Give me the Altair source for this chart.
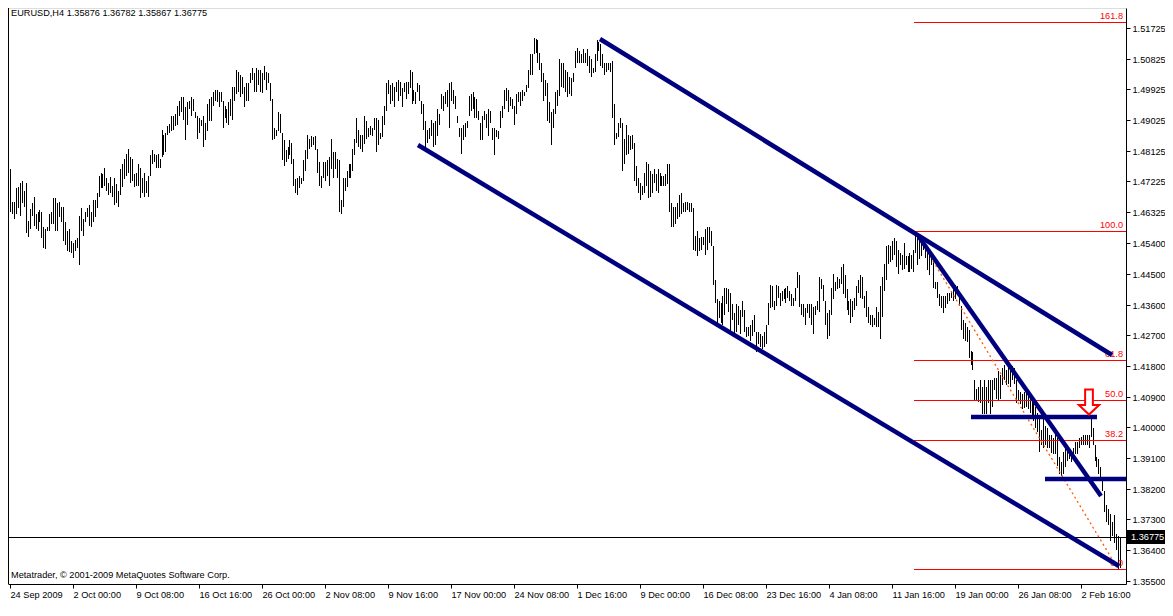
import json
import altair as alt
import pandas as pd

# ---------------- data (EURUSD, H4) ----------------
HIGH = [
1.4757,1.4661,1.4661,1.4701,1.4704,1.4718,1.4724,1.4695,1.4718,1.4605,
1.4642,1.4659,1.4675,1.4625,1.4633,1.4639,1.4633,1.4589,1.4583,1.4589,
1.4625,1.4631,1.4672,1.4672,1.4659,1.4661,1.4647,1.4647,1.4602,1.4575,
1.4583,1.4547,1.4541,1.4549,1.4555,1.4619,1.4644,1.4611,1.4633,1.4644,
1.4653,1.4633,1.4667,1.4667,1.4689,1.4738,1.4746,1.4743,1.4760,1.4732,
1.4718,1.4735,1.4709,1.4732,1.4715,1.4695,1.4757,1.4772,1.4788,1.4802,
1.4816,1.4794,1.4788,1.4743,1.4746,1.4772,1.4760,1.4732,1.4746,1.4724,
1.4738,1.4799,1.4814,1.4802,1.4799,1.4802,1.4788,1.4873,1.4859,1.4865,
1.4885,1.4890,1.4913,1.4915,1.4921,1.4943,1.4957,1.4969,1.4969,1.4941,
1.4955,1.4957,1.4969,1.4963,1.4926,1.4915,1.4907,1.4901,1.4915,1.4893,
1.4949,1.4963,1.4969,1.4983,1.4991,1.4991,1.4985,1.4983,1.4957,1.4943,
1.4935,1.4955,1.4963,1.4999,1.4999,1.5048,1.5042,1.5034,1.5028,1.4999,
1.5011,1.5011,1.5040,1.5056,1.5040,1.5054,1.5048,1.5048,1.5040,1.5062,
1.5042,1.5040,1.5011,1.4963,1.4879,1.4873,1.4926,1.4921,1.4865,1.4842,
1.4814,1.4822,1.4842,1.4836,1.4788,1.4729,1.4732,1.4738,1.4732,1.4785,
1.4814,1.4859,1.4845,1.4856,1.4851,1.4856,1.4816,1.4780,1.4738,1.4780,
1.4780,1.4785,1.4794,1.4845,1.4808,1.4808,1.4788,1.4785,1.4667,1.4732,
1.4732,1.4752,1.4772,1.4772,1.4816,1.4845,1.4907,1.4873,1.4859,1.4859,
1.4915,1.4898,1.4879,1.4885,1.4879,1.4907,1.4907,1.4901,1.4865,1.4913,
1.4943,1.5011,1.5020,1.5005,1.5011,1.4999,1.5014,1.5020,1.5014,1.4997,
1.5011,1.5014,1.5014,1.5048,1.5042,1.4991,1.4983,1.5011,1.5005,1.4957,
1.4949,1.4898,1.4873,1.4879,1.4901,1.4893,1.4898,1.4935,1.4921,1.4977,
1.4972,1.4983,1.4991,1.5011,1.5014,1.4991,1.4972,1.4913,1.4879,1.4879,
1.4887,1.4893,1.4898,1.4972,1.4977,1.4985,1.4969,1.4963,1.4929,1.4893,
1.4915,1.4929,1.4921,1.4935,1.4929,1.4879,1.4879,1.4873,1.4870,1.4929,
1.4943,1.4991,1.4997,1.4991,1.4969,1.4963,1.4943,1.4977,1.4985,1.4983,
1.4991,1.4985,1.5005,1.5048,1.5096,1.5096,1.5144,1.5141,1.5138,1.5099,
1.5068,1.5040,1.5020,1.5011,1.4955,1.4926,1.4935,1.4985,1.4991,1.5082,
1.5070,1.5068,1.5048,1.5042,1.5028,1.5025,1.5040,1.5104,1.5113,1.5104,
1.5096,1.5110,1.5099,1.5110,1.5090,1.5082,1.5054,1.5096,1.5138,1.5132,
1.5124,1.5096,1.5070,1.5068,1.5068,1.5070,1.5076,1.4949,1.4865,1.4893,
1.4907,1.4893,1.4845,1.4887,1.4859,1.4856,1.4859,1.4836,1.4766,1.4732,
1.4718,1.4709,1.4746,1.4780,1.4774,1.4752,1.4743,1.4757,1.4743,1.4757,
1.4746,1.4738,1.4738,1.4743,1.4772,1.4774,1.4659,1.4647,1.4647,1.4659,
1.4681,1.4687,1.4659,1.4661,1.4661,1.4659,1.4659,1.4644,1.4563,1.4575,
1.4555,1.4560,1.4560,1.4583,1.4589,1.4589,1.4575,1.4532,1.4433,1.4377,
1.4371,1.4366,1.4385,1.4408,1.4408,1.4405,1.4394,1.4363,1.4335,1.4363,
1.4357,1.4343,1.4371,1.4343,1.4295,1.4295,1.4301,1.4315,1.4329,1.4281,
1.4279,1.4273,1.4267,1.4279,1.4301,1.4366,1.4419,1.4414,1.4371,1.4419,
1.4414,1.4394,1.4400,1.4405,1.4408,1.4414,1.4400,1.4391,1.4380,1.4408,
1.4456,1.4447,1.4363,1.4363,1.4349,1.4363,1.4363,1.4363,1.4352,1.4357,
1.4371,1.4442,1.4436,1.4419,1.4371,1.4335,1.4343,1.4408,1.4450,1.4428,
1.4442,1.4436,1.4470,1.4478,1.4447,1.4405,1.4371,1.4377,1.4371,1.4380,
1.4414,1.4433,1.4447,1.4442,1.4385,1.4400,1.4352,1.4329,1.4329,1.4321,
1.4352,1.4338,1.4414,1.4442,1.4478,1.4532,1.4535,1.4532,1.4547,1.4555,
1.4547,1.4521,1.4512,1.4507,1.4541,1.4504,1.4504,1.4512,1.4507,1.4521,
1.4577,1.4560,1.4547,1.4541,1.4555,1.4541,1.4526,1.4521,1.4512,1.4493,
1.4428,1.4428,1.4391,1.4385,1.4385,1.4385,1.4394,1.4394,1.4400,1.4405,
1.4419,1.4414,1.4394,1.4357,1.4315,1.4307,1.4293,1.4287,1.4225,1.4222,
1.4138,1.4112,1.4118,1.4138,1.4118,1.4138,1.4118,1.4140,1.4138,1.4140,
1.4146,1.4146,1.4166,1.4155,1.4174,1.4183,1.4169,1.4180,1.4169,1.4180,
1.4174,1.4140,1.4109,1.4104,1.4098,1.4104,1.4104,1.4098,1.4084,1.4084,
1.4070,1.4061,1.4041,1.4033,1.3991,1.4033,1.4005,1.3997,1.3977,1.3977,
1.3969,1.3997,1.3969,1.3912,1.3898,1.3929,1.3940,1.3935,1.3940,1.3929,
1.3940,1.3957,1.3957,1.3969,1.3971,1.3977,1.3977,1.3977,1.3977,1.4027,
1.3997,1.3949,1.3912,1.3906,1.3884,1.3844,1.3813,1.3771,1.3760,1.3745,
1.3723,1.3743,1.3686,1.3681,1.36782,
]

LOW = [
1.4631,1.4625,1.4611,1.4625,1.4644,1.4619,1.4659,1.4647,1.4569,1.4560,
1.4583,1.4619,1.4591,1.4583,1.4577,1.4602,1.4555,1.4526,1.4523,1.4575,
1.4577,1.4597,1.4597,1.4577,1.4575,1.4616,1.4602,1.4547,1.4535,1.4518,
1.4515,1.4512,1.4498,1.4518,1.4526,1.4475,1.4575,1.4563,1.4602,1.4616,
1.4591,1.4589,1.4602,1.4616,1.4644,1.4675,1.4701,1.4701,1.4709,1.4695,
1.4681,1.4687,1.4675,1.4653,1.4659,1.4647,1.4681,1.4704,1.4729,1.4738,
1.4746,1.4718,1.4724,1.4704,1.4709,1.4709,1.4672,1.4687,1.4675,1.4689,
1.4675,1.4738,1.4772,1.4780,1.4760,1.4760,1.4760,1.4794,1.4799,1.4808,
1.4859,1.4865,1.4870,1.4873,1.4885,1.4887,1.4913,1.4926,1.4901,1.4842,
1.4887,1.4935,1.4913,1.4929,1.4907,1.4845,1.4865,1.4885,1.4822,1.4842,
1.4870,1.4898,1.4898,1.4943,1.4957,1.4955,1.4941,1.4955,1.4879,1.4907,
1.4893,1.4887,1.4915,1.4901,1.4957,1.4977,1.4983,1.4969,1.4977,1.4941,
1.4957,1.4957,1.5011,1.5020,1.4985,1.4985,1.5005,1.4985,1.4980,1.5020,
1.4991,1.5011,1.4957,1.4842,1.4845,1.4856,1.4870,1.4865,1.4785,1.4766,
1.4780,1.4788,1.4799,1.4772,1.4709,1.4689,1.4681,1.4701,1.4715,1.4724,
1.4752,1.4788,1.4816,1.4822,1.4828,1.4814,1.4746,1.4709,1.4701,1.4732,
1.4724,1.4738,1.4709,1.4757,1.4732,1.4757,1.4732,1.4631,1.4625,1.4647,
1.4695,1.4704,1.4732,1.4732,1.4752,1.4799,1.4836,1.4822,1.4816,1.4808,
1.4831,1.4845,1.4851,1.4859,1.4856,1.4873,1.4808,1.4828,1.4845,1.4851,
1.4887,1.4929,1.4977,1.4949,1.4957,1.4941,1.4985,1.4957,1.4972,1.4941,
1.4985,1.4963,1.4977,1.4997,1.4949,1.4957,1.4949,1.4983,1.4957,1.4921,
1.4873,1.4816,1.4836,1.4845,1.4856,1.4822,1.4828,1.4856,1.4887,1.4935,
1.4929,1.4949,1.4941,1.4879,1.4957,1.4949,1.4935,1.4893,1.4851,1.4802,
1.4842,1.4851,1.4879,1.4915,1.4929,1.4935,1.4907,1.4907,1.4901,1.4842,
1.4842,1.4901,1.4879,1.4856,1.4893,1.4842,1.4799,1.4851,1.4845,1.4879,
1.4907,1.4935,1.4957,1.4926,1.4943,1.4935,1.4887,1.4921,1.4955,1.4943,
1.4957,1.4972,1.4983,1.4997,1.5034,1.5034,1.5096,1.5099,1.5068,1.5048,
1.5014,1.4957,1.4972,1.4898,1.4893,1.4828,1.4879,1.4921,1.4943,1.4972,
1.4999,1.4997,1.4983,1.4969,1.4977,1.4972,1.5014,1.5056,1.5070,1.5068,
1.5068,1.5068,1.5070,1.5062,1.5040,1.5028,1.5040,1.5042,1.5076,1.5104,
1.5062,1.5056,1.5034,1.5042,1.5048,1.5042,1.4907,1.4828,1.4845,1.4851,
1.4879,1.4752,1.4774,1.4799,1.4802,1.4814,1.4816,1.4724,1.4709,1.4689,
1.4667,1.4681,1.4689,1.4709,1.4672,1.4675,1.4689,1.4718,1.4695,1.4689,
1.4709,1.4709,1.4709,1.4709,1.4715,1.4633,1.4589,1.4589,1.4597,1.4611,
1.4616,1.4625,1.4633,1.4631,1.4639,1.4633,1.4631,1.4521,1.4518,1.4504,
1.4518,1.4521,1.4535,1.4507,1.4521,1.4541,1.4532,1.4419,1.4366,1.4301,
1.4321,1.4307,1.4301,1.4329,1.4363,1.4338,1.4281,1.4315,1.4273,1.4279,
1.4301,1.4273,1.4324,1.4279,1.4264,1.4267,1.4253,1.4267,1.4281,1.4222,
1.4245,1.4236,1.4231,1.4236,1.4245,1.4301,1.4349,1.4352,1.4343,1.4357,
1.4380,1.4357,1.4371,1.4377,1.4366,1.4380,1.4371,1.4357,1.4357,1.4371,
1.4408,1.4352,1.4329,1.4324,1.4301,1.4335,1.4321,1.4301,1.4273,1.4329,
1.4343,1.4338,1.4405,1.4371,1.4301,1.4259,1.4267,1.4329,1.4377,1.4400,
1.4405,1.4408,1.4422,1.4391,1.4380,1.4343,1.4329,1.4307,1.4324,1.4343,
1.4357,1.4394,1.4380,1.4377,1.4349,1.4324,1.4307,1.4301,1.4295,1.4301,
1.4295,1.4293,1.4259,1.4324,1.4400,1.4433,1.4478,1.4484,1.4490,1.4507,
1.4470,1.4450,1.4475,1.4462,1.4465,1.4475,1.4456,1.4456,1.4465,1.4456,
1.4512,1.4475,1.4493,1.4504,1.4521,1.4498,1.4462,1.4447,1.4475,1.4408,
1.4405,1.4380,1.4357,1.4349,1.4335,1.4349,1.4363,1.4371,1.4380,1.4371,
1.4377,1.4391,1.4357,1.4287,1.4259,1.4253,1.4250,1.4202,1.4183,1.4169,
1.4081,1.4081,1.4075,1.4070,1.4039,1.4039,1.4039,1.4070,1.4039,1.4061,
1.4109,1.4084,1.4081,1.4084,1.4123,1.4138,1.4123,1.4126,1.4118,1.4138,
1.4126,1.4070,1.4081,1.4067,1.4053,1.4056,1.4061,1.4053,1.4041,1.4033,
1.4019,1.3997,1.3985,1.3929,1.3949,1.3940,1.3949,1.3940,1.3940,1.3926,
1.3921,1.3921,1.3887,1.3864,1.3856,1.3864,1.3884,1.3901,1.3906,1.3898,
1.3912,1.3921,1.3921,1.3940,1.3949,1.3949,1.3949,1.3949,1.3940,1.3971,
1.3949,1.3901,1.3884,1.3864,1.3844,1.3813,1.3751,1.3723,1.3714,1.3667,
1.3681,1.3661,1.3639,1.3584,1.35867,
]

SYMBOL = "EURUSD,H4"
LAST_OHLC = [1.35876, 1.36782, 1.35867, 1.36775]
COPYRIGHT = "Metatrader, \u00a9 2001-2009 MetaQuotes Software Corp."

TIME_LABELS = ["24 Sep 2009", "2 Oct 00:00", "9 Oct 08:00", "16 Oct 16:00",
               "26 Oct 00:00", "2 Nov 08:00", "9 Nov 16:00", "17 Nov 00:00",
               "24 Nov 08:00", "1 Dec 16:00", "9 Dec 00:00", "16 Dec 08:00",
               "23 Dec 16:00", "4 Jan 08:00", "11 Jan 16:00", "19 Jan 00:00",
               "26 Jan 08:00", "2 Feb 16:00"]
BARS_PER_LABEL = 32

PRICE_TICKS = [1.51725, 1.50825, 1.49925, 1.49025, 1.48125, 1.47225, 1.46325,
               1.45400, 1.44500, 1.43600, 1.42700, 1.41800, 1.40900, 1.40000,
               1.39100, 1.38200, 1.37300, 1.36400, 1.35500]
PRICE_RANGE = [1.35401, 1.52308]
BAR_RANGE = [-1, 567]

# Fibonacci retracement anchored at the swing high bar
FIB_HIGH_BAR = 460
FIB_LEVELS = [0.0, 38.2, 50.0, 61.8, 100.0, 161.8]

# hand-drawn trend lines (bar index, price)
LINE_I0 = [299.8, 207.3, 462.0, 488.0, 526.0]
LINE_P0 = [1.5140, 1.4830, 1.4560, 1.4031, 1.3848]
LINE_I1 = [559.8, 563.5, 554.5, 552.3, 567.0]
LINE_P1 = [1.4211, 1.3594, 1.3799, 1.4031, 1.3848]

ARROW_BAR = 548.25
ARROW_PRICE = 1.4075

# ---------------- layout / style ----------------
W, H = 1118, 576
RIGHT_PAD = 39
FONT = "Liberation Sans"
FS = 9.2
NAVY = "#00007f"

xs = alt.Scale(domain=BAR_RANGE, nice=False, zero=False, round=True)
ys = alt.Scale(domain=PRICE_RANGE, nice=False, zero=False, round=True)

label_expr = f"{json.dumps(TIME_LABELS)}[round(datum.value / {BARS_PER_LABEL})]"
x_axis = alt.Axis(values=[BARS_PER_LABEL * k for k in range(len(TIME_LABELS))],
                  labelExpr=label_expr, title=None, grid=False, orient="bottom",
                  tickSize=4, labelAlign="left", labelPadding=2,
                  labelOverlap=False, labelFlush=False, labelBound=False,
                  labelFont=FONT, labelFontSize=FS, labelColor="black",
                  domainColor="black", tickColor="black")
y_axis = alt.Axis(values=PRICE_TICKS, format=".5f", title=None, grid=False,
                  orient="right", tickSize=4, labelPadding=2,
                  labelOverlap=False, labelFlush=False, labelBound=False,
                  labelFont=FONT, labelFontSize=FS, labelColor="black",
                  domainColor="black", tickColor="black")


def X(f):
    return alt.X(f, type="quantitative", scale=xs, axis=x_axis)


def Y(f):
    return alt.Y(f, type="quantitative", scale=ys, axis=y_axis)


bars_df = pd.DataFrame({"i": list(range(len(HIGH))), "high": HIGH, "low": LOW})
bars = alt.Chart(bars_df).mark_rule(color="black", strokeWidth=1, xOffset=0.5).encode(
    x=X("i"), y=Y("low"), y2="high")

fib_hi = HIGH[FIB_HIGH_BAR]
tail_lows = LOW[FIB_HIGH_BAR:]
fib_lo = min(tail_lows)
fib_lo_bar = FIB_HIGH_BAR + tail_lows.index(fib_lo)
fib_df = pd.DataFrame({
    "price": [fib_lo + r / 100.0 * (fib_hi - fib_lo) for r in FIB_LEVELS],
    "label": [f"{r:.1f}" for r in FIB_LEVELS],
    "x0": [FIB_HIGH_BAR - 0.5] * len(FIB_LEVELS),
    "x1": [BAR_RANGE[1]] * len(FIB_LEVELS),
})
fib_rules = alt.Chart(fib_df).mark_rule(color="#ff0000", strokeWidth=1, yOffset=0.5).encode(
    x=X("x0"), x2="x1", y=Y("price"))
fib_text = alt.Chart(fib_df).mark_text(color="#ff0000", align="right", baseline="bottom",
                                       dy=-1, font=FONT, fontSize=FS).encode(
    x=alt.value(W - 3), y=Y("price"), text="label:N")

trend_df = pd.DataFrame({"i": [FIB_HIGH_BAR, fib_lo_bar], "p": [fib_hi, fib_lo]})
fib_trend = alt.Chart(trend_df).mark_line(color="#ff5a00", strokeWidth=1.3,
                                          strokeDash=[2, 3]).encode(x=X("i"), y=Y("p"))

close_df = pd.DataFrame({"close": [LAST_OHLC[3]], "label": [f"{LAST_OHLC[3]:.5f}"]})
close_line = alt.Chart(close_df).mark_rule(color="black", strokeWidth=1, yOffset=0.5).encode(
    y=Y("close"))

lines_df = pd.DataFrame({"i0": LINE_I0, "p0": LINE_P0, "i1": LINE_I1, "p1": LINE_P1})
blue = alt.Chart(lines_df).mark_rule(color=NAVY, strokeWidth=4.5).encode(
    x=X("i0"), y=Y("p0"), x2="i1", y2="p1")

ARROW_PATH = ("M -0.31 -1 L 0.31 -1 L 0.31 0.23 L 0.81 0.23 L 0 1 "
              "L -0.81 0.23 L -0.31 0.23 Z")
arrow_df = pd.DataFrame({"i": [ARROW_BAR], "p": [ARROW_PRICE]})
arrow = alt.Chart(arrow_df).mark_point(shape=ARROW_PATH, size=625, filled=True,
                                       fill="white", stroke="#ff0000", strokeWidth=2,
                                       opacity=1, fillOpacity=1, strokeOpacity=1).encode(
    x=X("i"), y=Y("p"))

price_box = alt.Chart(close_df).mark_rect(color="black", yOffset=-7, y2Offset=7).encode(
    x=alt.value(W + 1), x2=alt.value(W + RIGHT_PAD), y=Y("close"), y2="close")
price_txt = alt.Chart(close_df).mark_text(color="white", align="left", baseline="middle",
                                          font=FONT, fontSize=FS).encode(
    x=alt.value(W + 5), y=Y("close"), text="label:N")

title_str = SYMBOL + "  " + " ".join(f"{v:.5f}" for v in LAST_OHLC)
title = alt.Chart(pd.DataFrame({"t": [title_str]})).mark_text(
    align="left", baseline="middle", font=FONT, fontSize=FS, color="black").encode(
    x=alt.value(3), y=alt.value(5), text="t:N")
copy = alt.Chart(pd.DataFrame({"t": [COPYRIGHT]})).mark_text(
    align="left", baseline="middle", font=FONT, fontSize=FS, color="black").encode(
    x=alt.value(3), y=alt.value(H - 9), text="t:N")

left_border = alt.Chart(pd.DataFrame({"a": [0]})).mark_rule(color="black", strokeWidth=1).encode(
    x=alt.value(0.5), y=alt.value(0), y2=alt.value(H))

chart = alt.layer(
    bars, fib_rules, fib_text, close_line, fib_trend, blue, arrow,
    price_box, price_txt, title, copy, left_border
).properties(
    width=W, height=H,
    padding={"left": 0, "top": 0, "right": RIGHT_PAD, "bottom": 18},
    autosize=alt.AutoSizeParams(type="none"),
).configure_view(stroke=None).configure(background="white")

chart.save("out.html", embed_options={"renderer": "svg", "actions": False})
